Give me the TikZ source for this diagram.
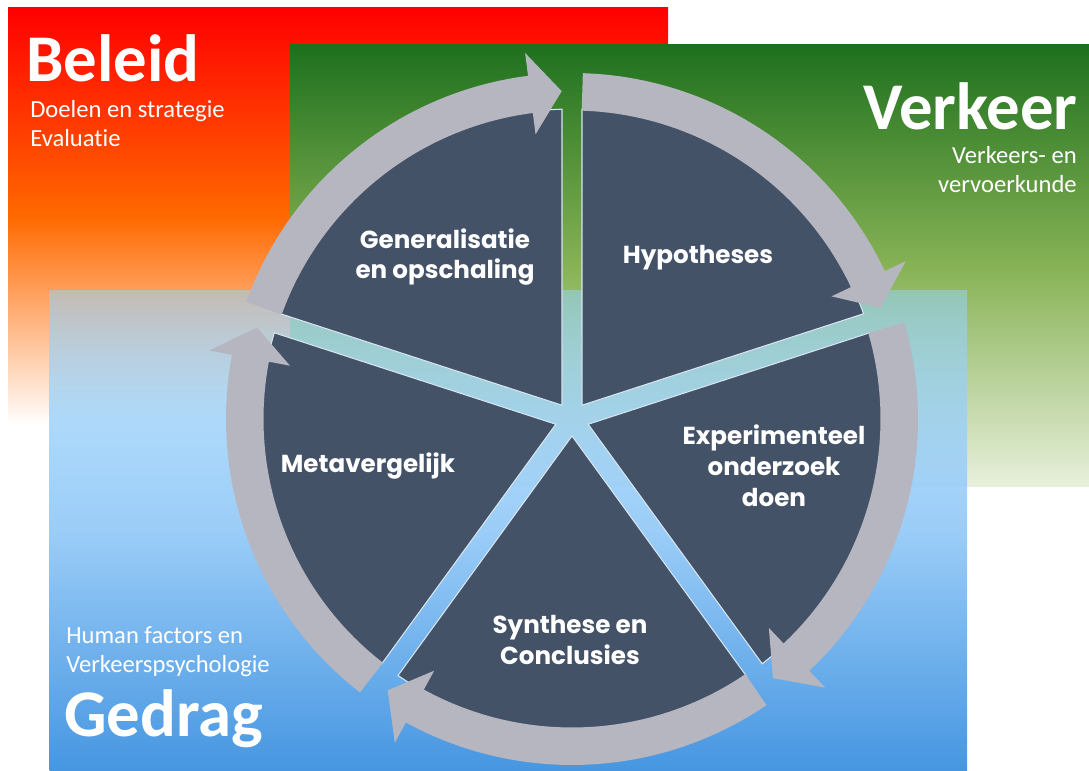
\documentclass[tikz,border=0pt]{standalone}
\usepackage{fontspec}
\setmainfont{Carlito}[Ligatures=NoCommon]
\newfontfamily\stepfont{Poppins}
\usepackage{xcolor}
\usepackage{tikz}
\usetikzlibrary{shapes,arrows,positioning,calc,fadings}

\definecolor{beleidred}{RGB}{255,0,0}
\definecolor{beleidorange}{RGB}{255,105,0}
\definecolor{verkeerdark}{RGB}{30,112,30}
\definecolor{verkeermid}{RGB}{135,178,85}
\definecolor{verkeerlight}{RGB}{232,240,220}
\definecolor{gedragtop}{RGB}{150,210,250}
\definecolor{gedragmid}{RGB}{155,205,248}
\definecolor{gedragdark}{RGB}{70,150,225}
\definecolor{slate}{RGB}{68,82,104}
\definecolor{ringgray}{RGB}{182,182,192}
\definecolor{spokeline}{RGB}{215,230,240}

\tikzfading[name=gedragfade, top color=transparent!45, bottom color=transparent!0, middle color=transparent!0]

\begin{document}
\begin{tikzpicture}[x=0.02cm, y=0.02cm]

% Styles for the research cycle
\tikzstyle{slice}=[fill=slate, draw=spokeline, line width=0.6pt]
\tikzstyle{cyclearrow}=[fill=ringgray]
\tikzstyle{steplabel}=[text=white, align=center, font=\stepfont\bfseries\fontsize{14}{17.6}\selectfont]
\tikzstyle{fieldtitle}=[text=white, inner sep=0pt, font=\bfseries\fontsize{38}{40}\selectfont]
\tikzstyle{fieldsub}=[text=white, inner sep=0pt, font=\fontsize{14}{17}\selectfont]

\useasboundingbox (0,0) rectangle (1089,771);

% Background fields
\shade[top color=beleidred, bottom color=white, middle color=beleidorange] (8,346) rectangle (668,763);
\shade[top color=verkeerdark, bottom color=verkeerlight, middle color=verkeermid] (290,284) rectangle (1089,726);
\shade[top color=gedragtop, bottom color=gedragdark, middle color=gedragmid, path fading=gedragfade] (50,0) rectangle (968,481);

% Centre of the cycle
\coordinate (c) at (572,352);

% Pie slices
\path[slice] ($(c)+(126:17)$) -- ($(c)+(160.15:310)$) arc[start angle=160.15, end angle=91.85, radius=310] -- cycle;
\path[slice] ($(c)+(54:17)$) -- ($(c)+(88.15:310)$) arc[start angle=88.15, end angle=19.85, radius=310] -- cycle;
\path[slice] ($(c)+(-18:17)$) -- ($(c)+(16.15:310)$) arc[start angle=16.15, end angle=-52.15, radius=310] -- cycle;
\path[slice] ($(c)+(-90:17)$) -- ($(c)+(-55.85:310)$) arc[start angle=-55.85, end angle=-124.15, radius=310] -- cycle;
\path[slice] ($(c)+(-162:17)$) -- ($(c)+(-127.85:310)$) arc[start angle=-127.85, end angle=-196.15, radius=310] -- cycle;

% Arrows round the cycle
\path[cyclearrow] ($(c)+(160.2:308.5)$) arc[start angle=160.2, end angle=97.3, radius=308.5] -- ($(c)+(97.3:287)$) -- ($(c)+(91.8:328)$) -- ($(c)+(97.3:369)$) -- ($(c)+(97.3:346)$) arc[start angle=97.3, end angle=160.2, radius=346] -- cycle;
\path[cyclearrow] ($(c)+(88.2:308.5)$) arc[start angle=88.2, end angle=25.3, radius=308.5] -- ($(c)+(25.3:287)$) -- ($(c)+(19.8:328)$) -- ($(c)+(25.3:369)$) -- ($(c)+(25.3:346)$) arc[start angle=25.3, end angle=88.2, radius=346] -- cycle;
\path[cyclearrow] ($(c)+(16.2:308.5)$) arc[start angle=16.2, end angle=-46.7, radius=308.5] -- ($(c)+(-46.7:287)$) -- ($(c)+(-52.2:328)$) -- ($(c)+(-46.7:369)$) -- ($(c)+(-46.7:346)$) arc[start angle=-46.7, end angle=16.2, radius=346] -- cycle;
\path[cyclearrow] ($(c)+(-55.8:308.5)$) arc[start angle=-55.8, end angle=-118.7, radius=308.5] -- ($(c)+(-118.7:287)$) -- ($(c)+(-124.2:328)$) -- ($(c)+(-118.7:369)$) -- ($(c)+(-118.7:346)$) arc[start angle=-118.7, end angle=-55.8, radius=346] -- cycle;
\path[cyclearrow] ($(c)+(-127.8:308.5)$) arc[start angle=-127.8, end angle=-190.7, radius=308.5] -- ($(c)+(-190.7:287)$) -- ($(c)+(-196.2:328)$) -- ($(c)+(-190.7:369)$) -- ($(c)+(-190.7:346)$) arc[start angle=-190.7, end angle=-127.8, radius=346] -- cycle;

% Steps of the cycle
\node[steplabel] (gen) at (445,514) {Generalisatie\\en opschaling};
\node[steplabel] (hyp) at (698,513) {Hypotheses};
\node[steplabel] (exp) at (774,305) {Experimenteel\\onderzoek\\doen};
\node[steplabel] (syn) at (570,131) {Synthese en\\Conclusies};
\node[steplabel] (meta) at (368,305) {Metavergelijk};

% Field titles (base of a two-line text is its last line)
\node[fieldtitle, anchor=base west] (beleid) at (26,689) {Beleid};
\node[fieldsub, anchor=base west, align=left] (beleidsub) at (30,624) {Doelen en strategie\\Evaluatie};
\node[fieldtitle, anchor=base east] (verkeer) at (1078,641) {Verkeer};
\node[fieldsub, anchor=base east, align=right] (verkeersub) at (1077,578) {Verkeers- en\\vervoerkunde};
\node[fieldsub, anchor=base west, align=left] (gedragsub) at (66,98) {Human factors en\\Verkeerspsychologie};
\node[fieldtitle, anchor=base west] (gedrag) at (64,34) {Gedrag};

\end{tikzpicture}
\end{document}
